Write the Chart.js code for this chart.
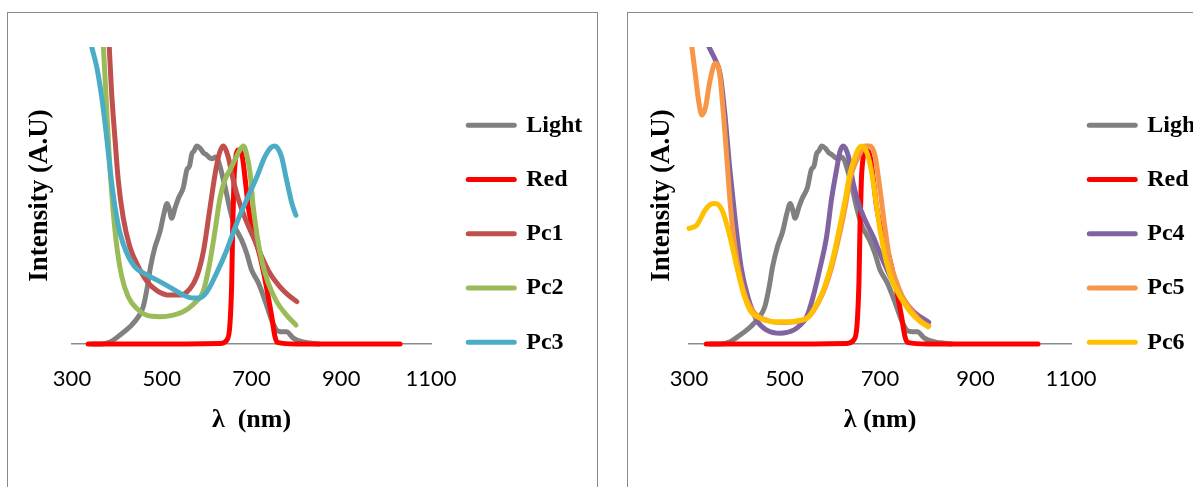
<!DOCTYPE html>
<html><head><meta charset="utf-8">
<script src="https://cdn.jsdelivr.net/npm/chart.js@4.4.1/dist/chart.umd.min.js"></script>
<style>
html,body{margin:0;padding:0;background:#fff;width:1193px;height:487px;overflow:hidden;position:relative}
.frame{position:absolute;border:1px solid #8a8a8a;box-sizing:border-box}
#f1{left:7px;top:12px;width:591px;height:520px}
#f2{left:627px;top:12px;width:620px;height:520px}
.wrap{position:absolute;top:0}
#w1{left:0;width:600px;height:487px}
#w2{left:600px;width:593px;height:487px}
canvas{display:block}
</style></head>
<body>
<div class="frame" id="f1"></div><div class="frame" id="f2"></div>
<div class="wrap" id="w1"><canvas id="c1" width="600" height="487"></canvas></div>
<div class="wrap" id="w2"><canvas id="c2" width="593" height="487"></canvas></div>
<script>
// ---- tick labels ----
const xTicks = [300, 500, 700, 900, 1100];

// ---- series (wavelength nm / normalised intensity) ----
const lightX = [345, 365, 385, 407, 429, 448, 459, 468, 475, 485, 496, 505, 512, 517, 522, 530, 537, 548, 556, 562, 567, 572, 578, 585, 593, 600, 607, 613, 619, 625, 630, 641, 652, 663, 670, 678, 689, 700, 715, 730, 745, 756, 762, 767, 778, 793, 815, 850];
const lightY = [0, 0, 0.01, 0.045, 0.087, 0.138, 0.19, 0.29, 0.39, 0.49, 0.567, 0.66, 0.71, 0.68, 0.635, 0.69, 0.735, 0.79, 0.88, 0.9, 0.96, 0.975, 1.0, 0.99, 0.965, 0.955, 0.94, 0.935, 0.945, 0.93, 0.895, 0.795, 0.68, 0.59, 0.56, 0.525, 0.46, 0.375, 0.31, 0.22, 0.12, 0.07, 0.064, 0.062, 0.062, 0.03, 0.01, 0];

const redX = [336, 500, 630, 645, 652, 656, 658, 661, 665, 670, 675, 680, 686, 693, 704, 717, 728, 738, 745, 752, 758, 800, 900, 1031];
const redY = [0, 0, 0.003, 0.02, 0.1, 0.32, 0.58, 0.83, 0.945, 0.98, 0.975, 0.94, 0.83, 0.69, 0.56, 0.46, 0.35, 0.23, 0.14, 0.04, 0.008, 0, 0, 0];

const pc1X = [375, 383, 388, 396, 403, 414, 429, 448, 466, 489, 518, 541, 563, 578, 593, 607, 619, 628, 637, 648, 659, 671, 685, 704, 723, 741, 763, 782, 801];
const pc1Y = [1.8, 1.5, 1.28, 1.03, 0.83, 0.64, 0.49, 0.39, 0.32, 0.27, 0.247, 0.247, 0.28, 0.34, 0.47, 0.68, 0.86, 0.96, 1.0, 0.946, 0.83, 0.73, 0.64, 0.54, 0.44, 0.357, 0.29, 0.247, 0.214];

const pc2X = [362, 370, 377, 383, 391, 400, 411, 425, 444, 466, 496, 526, 545, 570, 593, 607, 619, 630, 641, 652, 663, 674, 682, 689, 697, 704, 713, 723, 737, 756, 778, 799];
const pc2Y = [1.8, 1.5, 1.2, 0.946, 0.69, 0.49, 0.34, 0.24, 0.18, 0.146, 0.138, 0.146, 0.16, 0.2, 0.27, 0.41, 0.576, 0.74, 0.83, 0.88, 0.93, 0.98, 1.0, 0.96, 0.86, 0.69, 0.54, 0.42, 0.31, 0.214, 0.146, 0.096];

const pc3X = [335, 344, 355, 366, 377, 386, 396, 407, 422, 440, 466, 496, 526, 548, 570, 582, 600, 622, 645, 667, 689, 712, 730, 745, 752, 758, 767, 778, 790, 799];
const pc3Y = [1.6, 1.5, 1.4, 1.25, 1.05, 0.86, 0.69, 0.56, 0.46, 0.39, 0.35, 0.315, 0.276, 0.247, 0.232, 0.232, 0.262, 0.357, 0.475, 0.61, 0.727, 0.845, 0.946, 0.995, 1.0, 0.99, 0.946, 0.83, 0.71, 0.65];

const pc4X = [320, 332, 340, 348, 356, 365, 375, 385, 396, 409, 423, 442, 463, 491, 519, 533, 547, 560, 574, 588, 599, 609, 616, 623, 634, 644, 655, 670, 686, 703, 728, 749, 772, 802];
const pc4Y = [1.7, 1.56, 1.51, 1.47, 1.43, 1.367, 1.165, 0.895, 0.643, 0.39, 0.24, 0.12, 0.07, 0.054, 0.07, 0.096, 0.14, 0.24, 0.38, 0.54, 0.74, 0.88, 0.97, 1.0, 0.946, 0.81, 0.71, 0.62, 0.54, 0.44, 0.31, 0.225, 0.16, 0.11];

const pc5X = [300, 306, 313, 320, 327, 334, 344, 355, 364, 372, 379, 387, 396, 407, 421, 438, 463, 491, 525, 547, 560, 581, 599, 613, 627, 637, 646, 655, 662, 669, 679, 690, 700, 711, 721, 735, 745, 763, 784, 802];
const pc5Y = [1.62, 1.5, 1.367, 1.23, 1.157, 1.19, 1.33, 1.418, 1.367, 1.165, 0.946, 0.69, 0.49, 0.34, 0.222, 0.155, 0.12, 0.108, 0.113, 0.13, 0.165, 0.26, 0.39, 0.53, 0.69, 0.83, 0.9, 0.946, 0.98, 1.0, 1.0, 0.946, 0.78, 0.576, 0.42, 0.31, 0.25, 0.18, 0.12, 0.09];

const pc6X = [300, 316, 334, 345, 355, 363, 372, 386, 400, 414, 428, 449, 476, 511, 533, 547, 560, 581, 599, 613, 627, 637, 648, 656, 662, 672, 683, 692, 700, 711, 725, 742, 763, 784, 801];
const pc6Y = [0.584, 0.6, 0.677, 0.705, 0.71, 0.7, 0.66, 0.54, 0.39, 0.256, 0.17, 0.13, 0.113, 0.113, 0.12, 0.13, 0.17, 0.27, 0.41, 0.56, 0.727, 0.86, 0.946, 0.99, 1.0, 0.97, 0.86, 0.71, 0.576, 0.44, 0.323, 0.24, 0.163, 0.113, 0.087];

// ---- styles ----
const COLORS = {
  Light: '#808080', Red: '#FF0000', Pc1: '#C0504D', Pc2: '#9BBB59', Pc3: '#4BACC6',
  Pc4: '#8064A2', Pc5: '#F79646', Pc6: '#FFC000'
};
const SERIF = '"Liberation Serif", "Times New Roman", serif';

function pts(xs, ys) { return xs.map((x, i) => ({ x: x, y: ys[i] })); }

const legendFix = {
  id: 'legendFix',
  beforeLayout(chart, args, o) {
    const lg = chart.legend;
    if (lg && !lg._fixed) {
      const fit = lg.fit;
      lg.fit = function () { fit.call(this); this.width = o.width; };
      lg._fixed = true;
    }
  },
  afterLayout(chart, args, o) {
    const lg = chart.legend;
    lg.left += o.dx; lg.top += o.dy; lg.bottom += o.dy;
  }
};

function makeChart(id, series, cfg) {
  const n = series.length;
  const datasets = series.map((s, i) => ({
    label: s.label,
    data: pts(s.x, s.y),
    borderColor: COLORS[s.label],
    backgroundColor: COLORS[s.label],
    borderWidth: 5,
    pointRadius: 0,
    pointHoverRadius: 0,
    cubicInterpolationMode: 'monotone',
    borderCapStyle: 'round',
    borderJoinStyle: 'round',
    fill: false,
    order: n - i,
    clip: { left: false, top: 0, right: false, bottom: false }
  }));
  return new Chart(document.getElementById(id), {
    type: 'line',
    data: { datasets },
    plugins: [legendFix],
    options: {
      responsive: false,
      animation: false,
      events: [],
      layout: { padding: { left: 0, top: 47, right: 0, bottom: 43 } },
      scales: {
        x: {
          type: 'linear', min: 300, max: 1100,
          afterBuildTicks: (s) => { s.ticks = xTicks.map(v => ({ value: v })); },
          afterFit: (s) => { s.height = 100; },
          grid: { display: false, drawTicks: false },
          border: { display: true, color: '#8c8c8c', width: 1.5 },
          ticks: { padding: 24, color: '#000', callback: (v) => String(v),
                   font: { family: 'Lato, "Open Sans", sans-serif', size: 22, lineHeight: 1 }, maxRotation: 0 },
          title: { display: true, text: cfg.xTitle, color: '#000', padding: { top: 0, bottom: 11 },
                   font: { family: SERIF, size: 26, weight: 'bold', lineHeight: 1 } }
        },
        y: {
          min: 0, max: 1.5,
          afterFit: (s) => { s.width = cfg.yWidth; },
          grid: { display: false, drawTicks: false },
          border: { display: false },
          ticks: { display: false },
          title: { display: true, text: 'Intensity (A.U)', color: '#000', padding: { top: cfg.yTitlePad, bottom: 0 },
                   font: { family: SERIF, size: 27, weight: 'bold', lineHeight: 1 } }
        }
      },
      plugins: {
        tooltip: { enabled: false },
        legendFix: { width: cfg.legendWidth, dx: cfg.legendDx, dy: -11.7 },
        legend: {
          position: 'right',
          labels: {
            usePointStyle: true,
            pointStyle: 'line',
            pointStyleWidth: 46,
            padding: 30.25,
            color: '#000',
            font: { family: SERIF, size: 24, weight: 'bold' },
            generateLabels: (chart) => chart.data.datasets.map((ds, i) => ({
              text: ds.label,
              fillStyle: ds.borderColor,
              strokeStyle: ds.borderColor,
              lineWidth: 5,
              lineCap: 'round',
              pointStyle: 'line',
              hidden: false,
              fontColor: '#000',
              datasetIndex: i
            }))
          }
        }
      }
    }
  });
}

makeChart('c1', [
  { label: 'Light', x: lightX, y: lightY },
  { label: 'Red', x: redX, y: redY },
  { label: 'Pc1', x: pc1X, y: pc1Y },
  { label: 'Pc2', x: pc2X, y: pc2Y },
  { label: 'Pc3', x: pc3X, y: pc3Y }
], { xTitle: 'λ  (nm)', yWidth: 72, yTitlePad: 26.5, legendWidth: 169, legendDx: 7 });

makeChart('c2', [
  { label: 'Light', x: lightX, y: lightY },
  { label: 'Red', x: redX, y: redY },
  { label: 'Pc4', x: pc4X, y: pc4Y },
  { label: 'Pc5', x: pc5X, y: pc5Y },
  { label: 'Pc6', x: pc6X, y: pc6Y }
], { xTitle: 'λ (nm)', yWidth: 89, yTitlePad: 49, legendWidth: 122, legendDx: -12 });
</script>
</body></html>
